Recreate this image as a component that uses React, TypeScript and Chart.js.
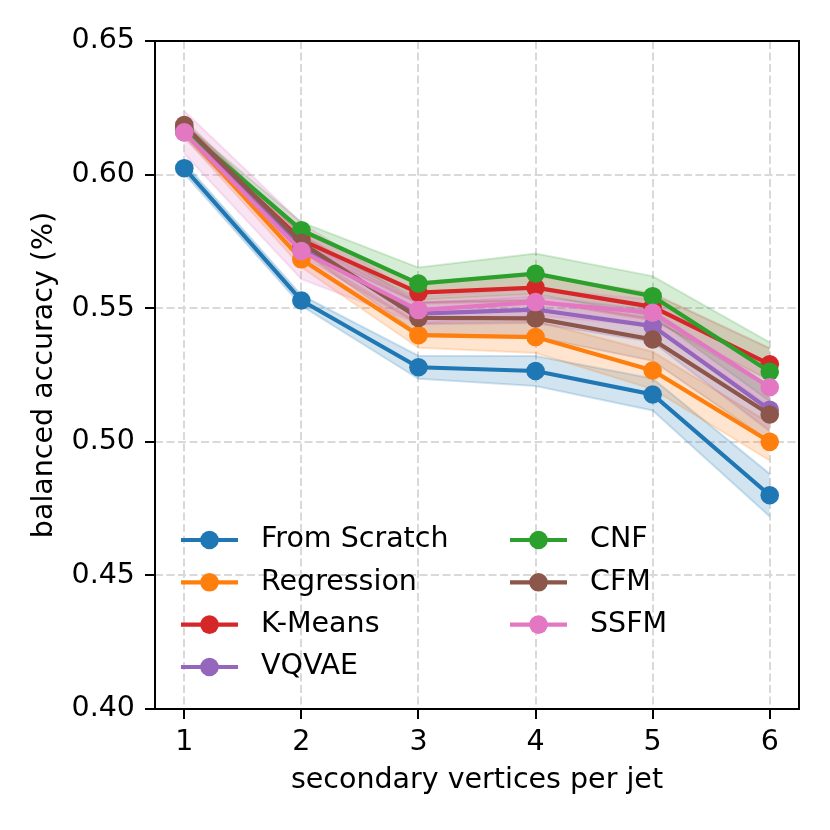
import React, { useEffect, useRef } from 'react';
import { Chart, registerables } from 'chart.js';

Chart.register(...registerables);

// ---------- data ----------
const xValues = [1, 2, 3, 4, 5, 6];
const yTickValues = [0.4, 0.45, 0.5, 0.55, 0.6, 0.65];

const seriesNames = ['From Scratch', 'Regression', 'K-Means', 'VQVAE', 'CNF', 'CFM', 'SSFM'];
const seriesColors = ['#1f77b4', '#ff7f0e', '#d62728', '#9467bd', '#2ca02c', '#8c564b', '#e377c2'];

const fromScratch = [0.6024, 0.5529, 0.5279, 0.5265, 0.5177, 0.48];
const regression = [0.616, 0.5683, 0.5399, 0.5392, 0.5267, 0.5];
const kMeans = [0.617, 0.5755, 0.5558, 0.5577, 0.5505, 0.529];
const vqvae = [0.616, 0.5725, 0.548, 0.5495, 0.5433, 0.512];
const cnf = [0.617, 0.5792, 0.5592, 0.5629, 0.5545, 0.5262];
const cfm = [0.6185, 0.5745, 0.5464, 0.5462, 0.5383, 0.5102];
const ssfm = [0.6158, 0.5714, 0.5493, 0.5523, 0.5483, 0.5204];

const fromScratchStd = [0.002, 0.002, 0.0043, 0.0056, 0.006, 0.008];
const regressionStd = [0.002, 0.003, 0.0047, 0.006, 0.007, 0.007];
const kMeansStd = [0.002, 0.003, 0.004, 0.005, 0.005, 0.006];
const vqvaeStd = [0.002, 0.003, 0.004, 0.005, 0.006, 0.008];
const cnfStd = [0.002, 0.003, 0.006, 0.0076, 0.0075, 0.011];
const cfmStd = [0.002, 0.003, 0.006, 0.007, 0.008, 0.01];
const ssfmStd = [0.008, 0.0105, 0.005, 0.005, 0.005, 0.007];

const seriesMeans = [fromScratch, regression, kMeans, vqvae, cnf, cfm, ssfm];
const seriesStds = [fromScratchStd, regressionStd, kMeansStd, vqvaeStd, cnfStd, cfmStd, ssfmStd];

const xTitle = 'secondary vertices per jet';
const yTitle = 'balanced accuracy (%)';

// ---------- helpers ----------
const FONT = "'DejaVu Sans'";
const FONT_SIZE = 28.5;
function rgba(hex: string, a: number) {
  const r = parseInt(hex.slice(1, 3), 16);
  const g = parseInt(hex.slice(3, 5), 16);
  const b = parseInt(hex.slice(5, 7), 16);
  return `rgba(${r},${g},${b},${a})`;
}

const LINE_W = 4.2;
const MARKER_R = 9.3;

const decorPlugin = {
  id: 'decor',
  afterDatasetsDraw(chart: any) {
    const { ctx, chartArea } = chart;
    const { left, right, top, bottom } = chartArea;
    ctx.save();
    // frame
    ctx.strokeStyle = '#000';
    ctx.lineWidth = 2;
    ctx.strokeRect(left, top, right - left, bottom - top);

    // legend (2 columns, column-major, frameless)
    const colX = [181, 510];
    const rowY = [540, 582.3, 624.6, 667];
    const handleLen = 57;
    const textPad = 23;
    ctx.font = `${FONT_SIZE}px ${FONT}`;
    ctx.textBaseline = 'middle';
    ctx.textAlign = 'left';
    seriesNames.forEach((name, i) => {
      const col = i < 4 ? 0 : 1;
      const row = i < 4 ? i : i - 4;
      const x0 = colX[col];
      const y = rowY[row];
      const c = seriesColors[i];
      ctx.strokeStyle = c;
      ctx.lineWidth = LINE_W;
      ctx.beginPath();
      ctx.moveTo(x0, y);
      ctx.lineTo(x0 + handleLen, y);
      ctx.stroke();
      ctx.fillStyle = c;
      ctx.beginPath();
      ctx.arc(x0 + handleLen / 2, y, MARKER_R, 0, Math.PI * 2);
      ctx.fill();
      ctx.fillStyle = '#000';
      ctx.fillText(name, x0 + handleLen + textPad, y);
    });

    // axis titles
    ctx.fillStyle = '#000';
    ctx.textAlign = 'center';
    ctx.textBaseline = 'middle';
    ctx.fillText(xTitle, (left + right) / 2, 781);
    ctx.save();
    ctx.translate(45, (top + bottom) / 2);
    ctx.rotate(-Math.PI / 2);
    ctx.fillText(yTitle, 0, 0);
    ctx.restore();
    ctx.restore();
  },
};

export default function App() {
  const canvasRef = useRef<HTMLCanvasElement | null>(null);

  useEffect(() => {
    document.body.style.margin = '0';
    const canvas = canvasRef.current;
    if (!canvas) return;

    const datasets: any[] = [];
    // error bands (drawn beneath all lines)
    seriesMeans.forEach((mean, i) => {
      const std = seriesStds[i];
      const c = seriesColors[i];
      datasets.push({
        label: seriesNames[i] + ' lower',
        data: xValues.map((x, j) => ({ x, y: mean[j] - std[j] })),
        borderColor: rgba(c, 0.2),
        borderWidth: 2,
        pointRadius: 0,
        fill: false,
        tension: 0,
        order: 100 - i * 2,
      });
      datasets.push({
        label: seriesNames[i] + ' upper',
        data: xValues.map((x, j) => ({ x, y: mean[j] + std[j] })),
        borderColor: rgba(c, 0.2),
        backgroundColor: rgba(c, 0.2),
        borderWidth: 2,
        pointRadius: 0,
        fill: '-1',
        tension: 0,
        order: 99 - i * 2,
      });
    });
    // mean lines with markers
    seriesMeans.forEach((mean, i) => {
      const c = seriesColors[i];
      datasets.push({
        label: seriesNames[i],
        data: xValues.map((x, j) => ({ x, y: mean[j] })),
        borderColor: c,
        backgroundColor: c,
        borderWidth: LINE_W,
        pointRadius: MARKER_R,
        pointBackgroundColor: c,
        pointBorderWidth: 0,
        fill: false,
        tension: 0,
        order: 6 - i,
      });
    });

    const tickFont = { family: FONT, size: FONT_SIZE };

    const chart = new Chart(canvas, {
      type: 'line',
      data: { datasets },
      plugins: [decorPlugin],
      options: {
        animation: false,
        responsive: false,
        devicePixelRatio: 1,
        layout: { padding: { top: 41, right: 31, left: 0, bottom: 0 } },
        plugins: {
          legend: { display: false },
          tooltip: { enabled: false },
          title: { display: false },
        },
        scales: {
          x: {
            type: 'linear',
            min: 0.75,
            max: 6.25,
            afterBuildTicks: (s: any) => {
              s.ticks = xValues.map((v) => ({ value: v }));
            },
            afterFit: (s: any) => {
              s.height = 121;
            },
            ticks: {
              color: '#000',
              font: tickFont,
              padding: 6,
              autoSkip: false,
              maxRotation: 0,
              callback: (v: any) => String(v),
            },
            grid: {
              color: '#d9d9d9',
              lineWidth: 2,
              tickColor: '#000',
              tickWidth: 2,
              tickLength: 10,
              tickBorderDash: [],
            },
            border: { display: false, dash: [8, 3.5] },
            title: { display: false },
          },
          y: {
            type: 'linear',
            min: 0.4,
            max: 0.65,
            afterBuildTicks: (s: any) => {
              s.ticks = yTickValues.map((v) => ({ value: v }));
            },
            afterFit: (s: any) => {
              s.width = 155;
            },
            ticks: {
              color: '#000',
              font: tickFont,
              padding: 10,
              autoSkip: false,
              callback: (v: any) => Number(v).toFixed(2),
            },
            grid: {
              color: '#d9d9d9',
              lineWidth: 2,
              tickColor: '#000',
              tickWidth: 2,
              tickLength: 10,
              tickBorderDash: [],
            },
            border: { display: false, dash: [8, 3.5] },
            title: { display: false },
          },
        },
      } as any,
    });

    return () => {
      chart.destroy();
    };
  }, []);

  return (
    <div style={{ position: 'absolute', left: 0, top: 0, width: 830, height: 830, background: '#fff' }}>
      <canvas ref={canvasRef} width={830} height={830} style={{ display: 'block' }} />
    </div>
  );
}
